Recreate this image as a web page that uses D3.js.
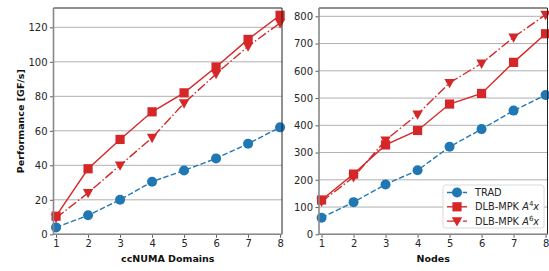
<!DOCTYPE html>
<html>
<head>
<meta charset="utf-8">
<script src="https://cdn.jsdelivr.net/npm/d3@7"></script>
<style>
  body { margin: 0; background: #fff; }
  svg { display: block; font-family: "DejaVu Sans", sans-serif; }
  .tick text { font-size: 10px; fill: #262626; }
</style>
</head>
<body>
<div id="chart"></div>
<script>
// x positions shared by both panels
var steps = [1, 2, 3, 4, 5, 6, 7, 8];

// left panel: ccNUMA domains
var numaTrad = [4, 11, 20, 30.5, 37, 44, 52.5, 62];
var numaA4 = [10.5, 38, 55, 71, 82, 97, 113, 127];
var numaA6 = [9.5, 24, 40, 56, 76, 93, 109, 122.5];
var numaTicks = [0, 20, 40, 60, 80, 100, 120];

// right panel: nodes
var nodeTrad = [61, 118, 183, 235, 321, 386, 454, 511];
var nodeA4 = [126, 221, 328, 381, 478, 517, 631, 736];
var nodeA6 = [120, 210, 345, 440, 556, 627, 723, 806];
var nodeTicks = [0, 100, 200, 300, 400, 500, 600, 700, 800];

var seriesNames = ["TRAD", "DLB-MPK A4x", "DLB-MPK A6x"];

var blue = "#1f77b4", red = "#d62728";
var styles = [
  { color: blue, dash: "5.5,2.4", marker: "circle" },
  { color: red, dash: null, marker: "square" },
  { color: red, dash: "9.6,2.4,1.5,2.4", marker: "tri" }
];

var svg = d3.select("#chart").append("svg")
  .attr("width", 549).attr("height", 271);

function drawMarker(g, kind, x, y, color) {
  if (kind === "circle") {
    g.append("circle").attr("cx", x).attr("cy", y).attr("r", 5)
      .attr("fill", color);
  } else if (kind === "square") {
    g.append("rect").attr("x", x - 4.6).attr("y", y - 4.6)
      .attr("width", 9.2).attr("height", 9.2).attr("fill", color);
  } else {
    var s = 5.2;
    g.append("path")
      .attr("d", "M" + (x - s) + "," + (y - s * 0.75) + "L" + (x + s) + "," + (y - s * 0.75) + "L" + x + "," + (y + s * 1.05) + "Z")
      .attr("fill", color);
  }
}

function panel(box, series, yMax, ticks, xlabel, ylabel) {
  var x = d3.scaleLinear().domain([0.92, 8.06]).range([box.left, box.right]);
  var y = d3.scaleLinear().domain([0, yMax]).range([box.bottom, box.top]);
  var g = svg.append("g");

  // horizontal grid
  g.append("g").selectAll("line").data(ticks).enter().append("line")
    .attr("x1", box.left).attr("x2", box.right)
    .attr("y1", function(d) { return y(d); }).attr("y2", function(d) { return y(d); })
    .attr("stroke", "#b0b0b0").attr("stroke-width", 1);

  var xAxis = g.append("g").attr("transform", "translate(0," + box.bottom + ")")
    .call(d3.axisBottom(x).tickValues(steps).tickSize(3.5).tickPadding(2.5).tickSizeOuter(0));
  var yAxis = g.append("g").attr("transform", "translate(" + box.left + ",0)")
    .call(d3.axisLeft(y).tickValues(ticks).tickSize(3.5).tickPadding(2.5).tickSizeOuter(0));
  [xAxis, yAxis].forEach(function(a) {
    a.select(".domain").remove();
    a.selectAll(".tick line").attr("stroke", "#333").attr("stroke-width", 0.8);
    a.selectAll(".tick text").style("font-family", "DejaVu Sans");
  });

  var line = d3.line()
    .x(function(d, i) { return x(steps[i]); })
    .y(function(d) { return y(d); });

  series.forEach(function(vals, k) {
    var st = styles[k];
    var sg = g.append("g");
    sg.append("path").datum(vals).attr("d", line)
      .attr("fill", "none").attr("stroke", st.color).attr("stroke-width", 1.4)
      .attr("stroke-dasharray", st.dash);
    vals.forEach(function(v, i) { drawMarker(sg, st.marker, x(steps[i]), y(v), st.color); });
  });

  // spines
  g.append("line").attr("x1", box.left).attr("x2", box.right).attr("y1", box.top).attr("y2", box.top)
    .attr("stroke", "#222").attr("stroke-width", 1);
  g.append("line").attr("x1", box.right).attr("x2", box.right).attr("y1", box.top).attr("y2", box.bottom)
    .attr("stroke", "#222").attr("stroke-width", 1);
  g.append("line").attr("x1", box.left).attr("x2", box.left).attr("y1", box.top).attr("y2", box.bottom)
    .attr("stroke", "#888").attr("stroke-width", 1.6);
  g.append("line").attr("x1", box.left).attr("x2", box.right).attr("y1", box.bottom).attr("y2", box.bottom)
    .attr("stroke", "#888").attr("stroke-width", 1.6);

  g.append("text").attr("x", (box.left + box.right) / 2).attr("y", 262)
    .attr("text-anchor", "middle").attr("font-size", 9.5).attr("font-weight", "bold")
    .attr("fill", "#111").text(xlabel);
  if (ylabel) {
    g.append("text").attr("transform", "translate(23.5," + ((box.top + box.bottom) / 2) + ") rotate(-90)")
      .attr("text-anchor", "middle").attr("font-size", 9.5).attr("font-weight", "bold")
      .attr("fill", "#111").text(ylabel);
  }
  return { x: x, y: y };
}

panel({ left: 53.5, right: 282, top: 8, bottom: 234.3 },
  [numaTrad, numaA4, numaA6], 131.2, numaTicks, "ccNUMA Domains", "Performance [GF/s]");
panel({ left: 319, right: 547.5, top: 8, bottom: 234.3 },
  [nodeTrad, nodeA4, nodeA6], 830.5, nodeTicks, "Nodes", null);

// legend
var lg = svg.append("g").attr("transform", "translate(443,185)");
lg.append("rect").attr("x", 0).attr("y", 0).attr("width", 101).attr("height", 43)
  .attr("rx", 2.5).attr("fill", "#fff").attr("fill-opacity", 0.85)
  .attr("stroke", "#d0d0d0").attr("stroke-width", 0.8);
seriesNames.forEach(function(name, k) {
  var st = styles[k];
  var cy = 7.5 + k * 14.3;
  lg.append("line").attr("x1", 4).attr("x2", 24).attr("y1", cy).attr("y2", cy)
    .attr("stroke", st.color).attr("stroke-width", 1.4).attr("stroke-dasharray", st.dash);
  drawMarker(lg, st.marker, 14, cy, st.color);
  var t = lg.append("text").attr("x", 32).attr("y", cy + 3.6)
    .attr("font-size", 9.8).attr("fill", "#262626");
  if (k === 0) {
    t.text(name);
  } else {
    t.append("tspan").text("DLB-MPK ");
    t.append("tspan").attr("font-style", "italic").text("A");
    t.append("tspan").attr("font-size", 7).attr("dy", -4).text(k === 1 ? "4" : "6");
    t.append("tspan").attr("font-style", "italic").attr("dy", 4).text("x");
  }
});
</script>
</body>
</html>
